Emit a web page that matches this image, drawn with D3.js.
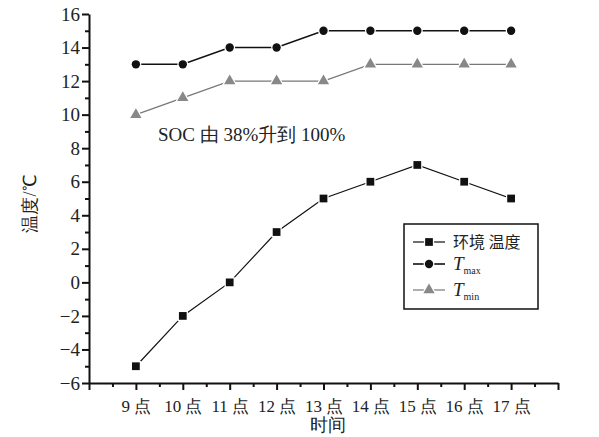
<!DOCTYPE html>
<html>
<head>
<meta charset="utf-8">
<script src="https://cdn.jsdelivr.net/npm/d3@7"></script>
<style>
  body { margin: 0; background: #fff; }
</style>
</head>
<body>
<svg id="chart"></svg>
<script>
var hours = [9, 10, 11, 12, 13, 14, 15, 16, 17]
var envTemp = [-5, -2, 0, 3, 5, 6, 7, 6, 5]
var tMax = [13, 13, 14, 14, 15, 15, 15, 15, 15]
var tMin = [10, 11, 12, 12, 12, 13, 13, 13, 13]
var yTicks = [-6, -4, -2, 0, 2, 4, 6, 8, 10, 12, 14, 16]

var width = 599, height = 437
var margin = {top: 14, left: 89, right: 41, bottom: 54}
var innerW = width - margin.left - margin.right
var innerH = height - margin.top - margin.bottom

var svg = d3.select('#chart').attr('width', width).attr('height', height)
    .attr('font-family', 'Liberation Serif')
var g = svg.append('g').attr('transform', 'translate(' + margin.left + ',' + margin.top + ')')

var x = d3.scaleLinear().domain([8, 18]).range([0, innerW])
var y = d3.scaleLinear().domain([-6, 16]).range([innerH, 0])

// minor ticks first
g.append('g').attr('transform', 'translate(0,' + innerH + ')')
    .call(d3.axisBottom(x).tickValues(d3.range(8.5, 18.5, 1)).tickSize(4).tickFormat(''))
    .call(function (s) { s.select('.domain').remove() })
g.append('g')
    .call(d3.axisLeft(y).tickValues(d3.range(-5, 17, 2)).tickSize(4).tickFormat(''))
    .call(function (s) { s.select('.domain').remove() })

var xAxis = g.append('g').attr('transform', 'translate(0,' + innerH + ')')
    .call(d3.axisBottom(x).tickValues(d3.range(8, 19, 1)).tickSize(7).tickSizeOuter(0)
        .tickFormat(function (d) { return (d >= 9 && d <= 17) ? d + ' 点' : '' }))
xAxis.selectAll('text').attr('font-size', 17).attr('dy', '1.1em')

var yAxis = g.append('g')
    .call(d3.axisLeft(y).tickValues(yTicks).tickSize(7).tickSizeOuter(0)
        .tickFormat(function (d) { return d < 0 ? '\u2212' + Math.abs(d) : d }))
yAxis.selectAll('text').attr('font-size', 19).attr('x', -9)

// axis groups get their own font attrs from d3, drop them
g.selectAll('g').attr('font-family', null).attr('font-size', null)
g.selectAll('.domain, .tick line').attr('stroke', '#111').attr('stroke-width', 2)

svg.append('text').attr('x', margin.left + innerW / 2 + 4).attr('y', 431)
    .attr('text-anchor', 'middle').attr('font-size', 18).text('时间')
svg.append('text').attr('transform', 'translate(36,' + (margin.top + innerH / 2 + 5) + ') rotate(-90)')
    .attr('text-anchor', 'middle').attr('font-size', 18).text('温度/℃')

var line = d3.line().x(function (d, i) { return x(hours[i]) }).y(function (d) { return y(d) })

var series = [
    {name: 'env', values: envTemp, color: '#111', width: 1.2, shape: d3.symbolSquare, size: 60, fill: '#111'},
    {name: 'max', values: tMax, color: '#111', width: 1.6, shape: d3.symbolCircle, size: 55, fill: '#111'},
    {name: 'min', values: tMin, color: '#777', width: 1.2, shape: d3.symbolTriangle, size: 55, fill: '#888'}
]

series.forEach(function (s) {
    g.append('path').datum(s.values).attr('fill', 'none')
        .attr('stroke', s.color).attr('stroke-width', s.width).attr('d', line)
    g.selectAll('.m-' + s.name).data(s.values).enter().append('path')
        .attr('class', 'm-' + s.name)
        .attr('transform', function (d, i) { return 'translate(' + x(hours[i]) + ',' + y(d) + ')' })
        .attr('d', d3.symbol().type(s.shape).size(s.size))
        .attr('fill', s.fill).attr('stroke', '#fff').attr('stroke-width', 2.5)
        .attr('paint-order', 'stroke')
})

svg.append('text').attr('x', 158).attr('y', 141).attr('font-size', 19).text('SOC 由 38%升到 100%')

// legend
var legend = svg.append('g').attr('transform', 'translate(404,224)')
legend.append('rect').attr('width', 134).attr('height', 85)
    .attr('fill', '#fff').attr('stroke', '#111').attr('stroke-width', 1.5)
var legendRows = legend.selectAll('.row').data(series).enter().append('g')
    .attr('transform', function (d, i) { return 'translate(0,' + [18, 40, 66][i] + ')' })
legendRows.append('line').attr('x1', 9).attr('x2', 41)
    .attr('stroke', function (d) { return d.color }).attr('stroke-width', function (d) { return d.width })
legendRows.append('path').attr('transform', 'translate(25,0)')
    .attr('d', function (d) { return d3.symbol().type(d.shape).size(d.size)() })
    .attr('fill', function (d) { return d.fill }).attr('stroke', '#fff').attr('stroke-width', 2.5)
    .attr('paint-order', 'stroke')

legend.append('text').attr('x', 49).attr('y', 24).attr('font-size', 16)
    .attr('font-family', 'Noto Sans CJK SC').text('环境 温度')
var tmaxText = legend.append('text').attr('x', 49).attr('y', 46).attr('font-size', 19)
tmaxText.append('tspan').attr('font-style', 'italic').text('T')
tmaxText.append('tspan').attr('font-size', 10).attr('dy', 4).text('max')
var tminText = legend.append('text').attr('x', 49).attr('y', 72).attr('font-size', 19)
tminText.append('tspan').attr('font-style', 'italic').text('T')
tminText.append('tspan').attr('font-size', 10).attr('dy', 4).text('min')

svg.selectAll('text').attr('fill', '#222')
</script>
</body>
</html>
